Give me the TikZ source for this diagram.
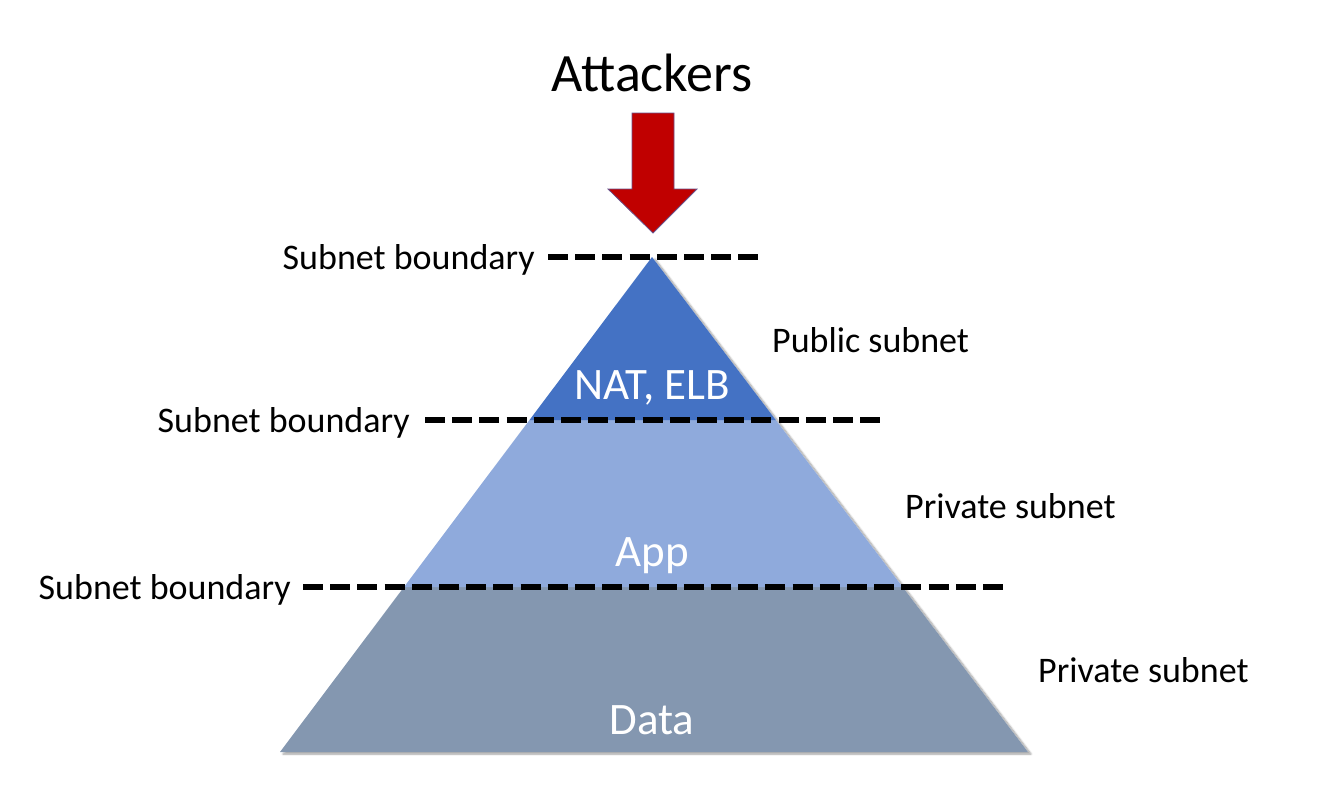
\documentclass[tikz,border=0pt]{standalone}
\usepackage{fontspec}
\setmainfont{Carlito}
\usetikzlibrary{calc,positioning,shadows.blur}

\definecolor{natblue}{HTML}{4472C4}
\definecolor{appblue}{HTML}{8FAADC}
\definecolor{datablue}{HTML}{8497B0}
\definecolor{attackred}{HTML}{C00000}

\begin{document}
\begin{tikzpicture}
  [
    x=1pt, y=-1pt,
    boundary/.style =
      {line width=6pt, dash pattern=on 20pt off 7.2pt, black},
    sidelabel/.style =
      {font=\fontsize{36}{43}\selectfont, inner sep=0pt},
    layerlabel/.style =
      {text=white, font=\fontsize{45}{54}\selectfont, inner sep=0pt}
  ]

\useasboundingbox (0,0) rectangle (1328,800);

% pyramid corners
\coordinate (top) at (652,257);
\coordinate (bl)  at (280,752);
\coordinate (br)  at (1028,752);
\coordinate (l1)  at ($(top)!0.3293!(bl)$);
\coordinate (r1)  at ($(top)!0.3293!(br)$);
\coordinate (l2)  at ($(top)!0.6667!(bl)$);
\coordinate (r2)  at ($(top)!0.6667!(br)$);

% shadow
\fill[white, blur shadow={shadow xshift=3pt, shadow yshift=-2pt, shadow blur steps=6, shadow opacity=40}]
  (top) -- (br) -- (bl) -- cycle;

% layers
\fill[datablue] (l2) -- (r2) -- (br) -- (bl) -- cycle;
\fill[appblue]  (l1) -- (r1) -- (r2) -- (l2) -- cycle;
\fill[natblue]  (top) -- (r1) -- (l1) -- cycle;

\node[layerlabel] (nat)  at (652,388) {NAT, ELB};
\node[layerlabel] (app)  at (652,556) {App};
\node[layerlabel] (data) at (652,720) {Data};

% attack arrow
\node[font=\fontsize{54}{64}\selectfont, inner sep=0pt] (att) at (652,73) {Attackers};
\filldraw[fill=attackred, draw=natblue!70!attackred, line width=0.8pt]
  (632,113) -- (674,113) -- (674,189) -- (697,189) -- (653,233)
  -- (608,189) -- (632,189) -- cycle;

% subnet boundaries
\coordinate (b1s) at (548,257);  \coordinate (b1e) at (758,257);
\coordinate (b2s) at (425,420);  \coordinate (b2e) at (880,420);
\coordinate (b3s) at (303,587);  \coordinate (b3e) at (1003,587);

\draw[boundary] (b1s) -- (b1e);
\draw[boundary] (b2s) -- (b2e);
\draw[boundary] (b3s) -- (b3e);

\node[sidelabel, left=13pt of b1s, yshift=-3pt] (sb1) {Subnet boundary};
\node[sidelabel, left=15pt of b2s, yshift=-3pt] (sb2) {Subnet boundary};
\node[sidelabel, left=12pt of b3s, yshift=-3pt] (sb3) {Subnet boundary};

\node[sidelabel, anchor=west] (pub)   at (772,340) {Public subnet};
\node[sidelabel, anchor=west] (priv1) at (905,506) {Private subnet};
\node[sidelabel, anchor=west] (priv2) at (1038,670) {Private subnet};
\end{tikzpicture}
\end{document}
